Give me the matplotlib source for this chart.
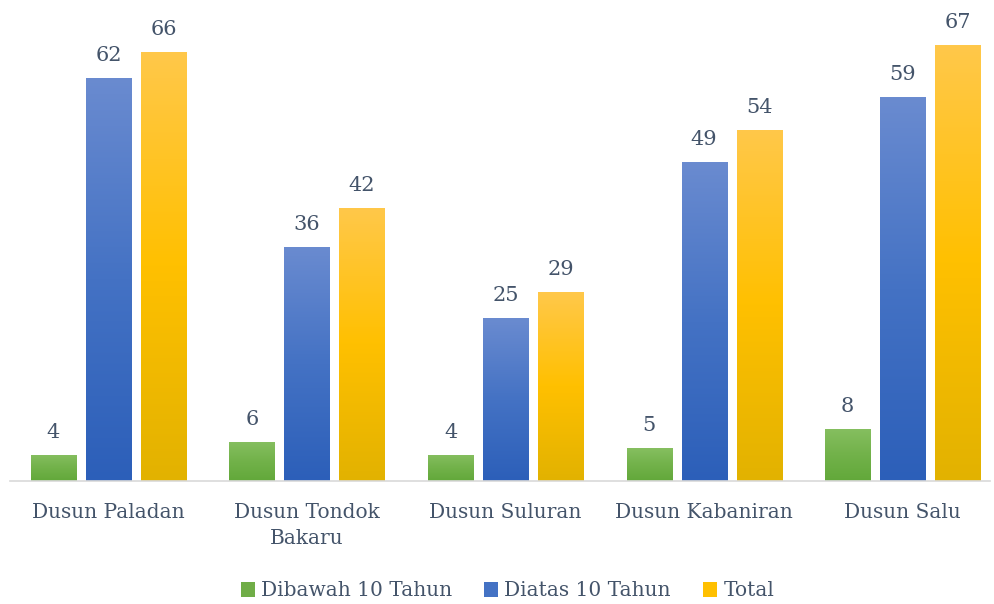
import numpy as np
import matplotlib.pyplot as plt
from matplotlib.colors import LinearSegmentedColormap
from matplotlib.patches import Patch

categories = ['Dusun Paladan', 'Dusun Tondok\nBakaru', 'Dusun Suluran', 'Dusun Kabaniran', 'Dusun Salu']
dibawah = [4, 6, 4, 5, 8]
diatas = [62, 36, 25, 49, 59]
total = [66, 42, 29, 54, 67]
series_names = ['Dibawah 10 Tahun', 'Diatas 10 Tahun', 'Total']

text_color = '#44546a'
font = 'DejaVu Serif'

grads = [
    ['#62a83a', '#72b24a', '#86bf60'],
    ['#2c5fb9', '#4472c4', '#6a8bd0'],
    ['#e2b200', '#ffc000', '#ffc84a'],
]
solid = ['#70ad47', '#4472c4', '#ffc000']

fig = plt.figure(figsize=(9.95, 6.04), dpi=100)
ax = fig.add_axes([10 / 995, 1 - 481 / 604, 980 / 995, 471 / 604])

x = np.arange(len(categories))
w = 0.227
step = 0.277
grad = np.linspace(0, 1, 256).reshape(-1, 1)

for k, vals in enumerate([dibawah, diatas, total]):
    cmap = LinearSegmentedColormap.from_list('g%d' % k, grads[k])
    bars = ax.bar(x + (k - 1) * step, vals, w, color='none', edgecolor='none')
    for b, v in zip(bars, vals):
        bx, by = b.get_x(), b.get_y()
        bw, bh = b.get_width(), b.get_height()
        im = ax.imshow(grad, cmap=cmap, origin='lower', aspect='auto',
                       extent=[bx, bx + bw, by, by + bh], zorder=2)
        im.set_clip_path(b)
        ax.text(bx + bw / 2, v + 2.0, str(v), ha='center', va='bottom',
                fontsize=15, color=text_color, family=font)

ax.set_xlim(-0.496, 4.44)
ax.set_ylim(0, 72.4)
for s in ['top', 'right', 'left']:
    ax.spines[s].set_visible(False)
ax.spines['bottom'].set_color('#d9d9d9')
ax.spines['bottom'].set_linewidth(1.2)
ax.set_yticks([])
ax.set_xticks(x)
ax.set_xticklabels(categories, fontsize=14.5, color=text_color, family=font,
                   linespacing=1.45)
ax.tick_params(axis='x', length=0, pad=16)

handles = [Patch(facecolor=c, edgecolor='none') for c in solid]
leg = fig.legend(handles, series_names, loc='center', bbox_to_anchor=(0.51, 1 - 591 / 604),
                 ncol=3, frameon=False, handlelength=0.7, handleheight=0.7,
                 handletextpad=0.3, columnspacing=1.6,
                 prop={'family': font, 'size': 14.5})
for t in leg.get_texts():
    t.set_color(text_color)

fig.savefig('out.png', dpi=100)
